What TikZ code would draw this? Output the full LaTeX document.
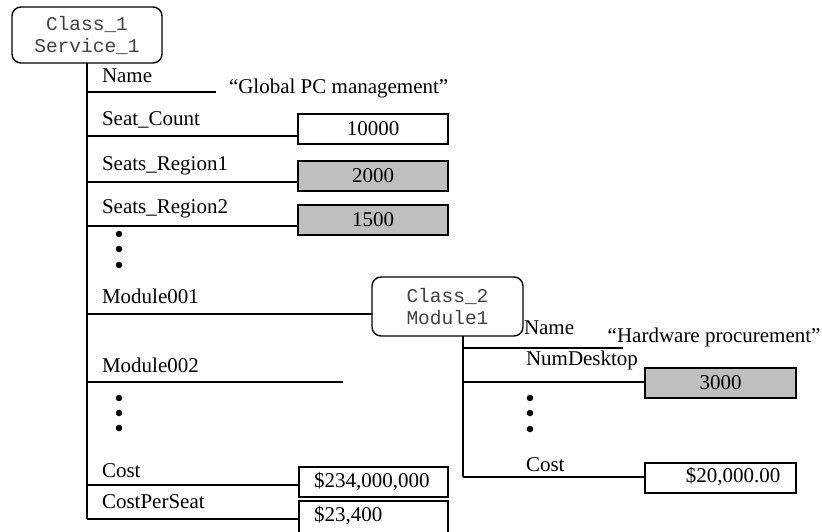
\documentclass[tikz,border=0pt]{standalone}
\usepackage{fontspec}
\setmainfont{Liberation Serif}
\setmonofont{Liberation Mono}
\begin{document}
\begin{tikzpicture}[x=1pt,y=-1pt,
  line width=1.4pt,
  every node/.style={inner sep=0pt, outer sep=0pt},
  classbox/.style={draw, rounded corners=9pt, font=\fontsize{19.5}{22}\selectfont\ttfamily,
                   align=center, text=black!75},
  lbl/.style={anchor=west, font=\fontsize{21}{24}\selectfont},
  valtext/.style={font=\fontsize{21}{24}\selectfont},
  valbox/.style={draw, minimum width=150pt, minimum height=30pt, font=\fontsize{21}{24}\selectfont},
  grey/.style={fill=black!25},
  dot/.style={circle, fill=black, minimum size=6.5pt}]
\clip (0,0) rectangle (822,531);

% class nodes
\node[classbox, minimum width=150pt, minimum height=56pt] (c1) at (87,35) {Class\_1\\Service\_1};
\node[classbox, minimum width=151pt, minimum height=59pt] (c2) at (447.5,306.5) {Class\_2\\Module1};

% branch points on the Service_1 trunk
\coordinate (t0) at (87,519);
\coordinate (bName) at (87,92);
\coordinate (bSeat) at (87,136);
\coordinate (bR1) at (87,182);
\coordinate (bR2) at (87,226);
\coordinate (bM1) at (87,314);
\coordinate (bM2) at (87,382);
\coordinate (bCost) at (87,485);
\coordinate (bCPS) at (87,519);
\coordinate (eName) at (216,92);
\coordinate (eM2) at (343,382);

% value boxes
\node[valbox] (vSeat) at (373,129) {10000};
\node[valbox, grey] (vR1) at (373,176) {2000};
\node[valbox, grey] (vR2) at (373,220) {1500};
\node[valbox, minimum width=149pt] (vCost) at (373.5,482) {};
\node[valtext, anchor=west] at ([xshift=15pt]vCost.west) {\$234,000,000};
\node[valbox, minimum width=149pt, minimum height=32pt] (vCPS) at (373.5,517) {};
\node[valtext, anchor=west] at (314,516) {\$23,400};
\node[valtext, anchor=west] (gName) at (229,88) {“Global PC management”};

% trunk and branches of Service_1
\draw (c1.south) -- (t0);
\draw (bName) -- (eName);
\draw (bSeat) -- (bSeat -| vSeat.west);
\draw (bR1) -- (bR1 -| vR1.west);
\draw (bR2) -- (bR2 -| vR2.west);
\draw (bM1) -- (bM1 -| c2.west);
\draw (bM2) -- (eM2);
\draw (bCost) -- (bCost -| vCost.west);
\draw (bCPS) -- (bCPS -| vCPS.west);

% labels of Service_1
\node[lbl] at (102,76) {Name};
\node[lbl] at (102,120) {Seat\_Count};
\node[lbl] at (102,166) {Seats\_Region1};
\node[lbl] at (102,209) {Seats\_Region2};
\node[lbl] at (102,296) {Module001};
\node[lbl] at (102,365) {Module002};
\node[lbl] at (102,471) {Cost};
\node[lbl] at (102,502) {CostPerSeat};

% ellipses
\node[dot] (d1) at (119,234) {};
\node[dot] (d2) at (119,249) {};
\node[dot] (d3) at (119,265) {};
\node[dot] (d4) at (119,398) {};
\node[dot] (d5) at (119,413) {};
\node[dot] (d6) at (119,428) {};

% Module1 subtree
\coordinate (m0) at (463,336);
\coordinate (mEnd) at (463,477);
\coordinate (mName) at (463,348);
\coordinate (mNum) at (463,382);
\coordinate (mCost) at (463,477);
\coordinate (emName) at (623,348);
\node[valbox, grey, minimum width=151pt] (vNum) at (720.5,383) {3000};
\node[valbox, minimum width=151pt] (vMCost) at (720.5,478) {};
\node[valtext] at (733,477) {\$20,000.00};
\node[valtext, anchor=east] (hName) at (820.5,337) {“Hardware procurement”};

\draw (m0) -- (mEnd);
\draw (mName) -- (emName);
\draw (mNum) -- (mNum -| vNum.west);
\draw (mCost) -- (vMCost.west |- mCost);

\node[lbl] at (524,328) {Name};
\node[lbl] at (526,360) {NumDesktop};
\node[lbl] at (526,465) {Cost};

\node[dot] (d7) at (530,398) {};
\node[dot] (d8) at (530,413) {};
\node[dot] (d9) at (530,429) {};
\end{tikzpicture}
\end{document}
